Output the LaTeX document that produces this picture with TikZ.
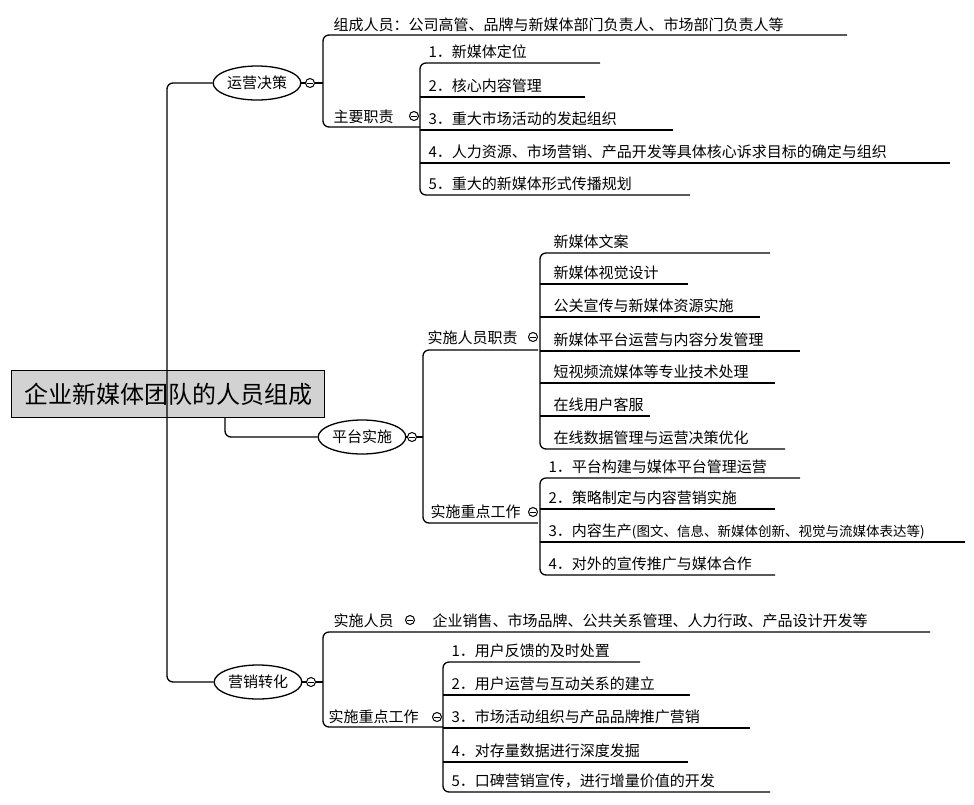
\documentclass[tikz,border=0pt]{standalone}
\usepackage{fontspec}
\setmainfont{Noto Sans CJK SC}
\usetikzlibrary{shapes.geometric}
\begin{document}
\begin{tikzpicture}[x=1pt,y=-1pt,line width=1.3pt,
  txt/.style={font=\fontsize{15}{15}\selectfont,anchor=base west,inner sep=0pt},
  oval/.style={draw,ellipse,minimum width=86,minimum height=34,inner sep=1pt,font=\fontsize{15}{15}\selectfont},
  rc/.style={rounded corners=6}]
\newcommand\icon[2]{\draw[line width=1pt] (#1,#2) circle (4.5); \draw[line width=1pt] (#1-2.6,#2)--(#1+2.6,#2);}
\useasboundingbox (0,0) rectangle (974,804);
% root
\node[draw,fill=gray!35,minimum width=313,minimum height=47,inner sep=0pt,font=\fontsize{24}{24}\selectfont] (root) at (168,394) {企业新媒体团队的人员组成};
\node[oval] (a) at (257,83) {运营决策};
\node[oval] (b) at (362,437) {平台实施};
\node[oval] (c) at (258,682) {营销转化};
\draw[rc] (a.west) -- (167,83) -- (167,682) -- (c.west);
\draw[rc] (225,417) -- (225,437) -- (b.west);
\icon{310}{83}\icon{412}{437}\icon{311}{682}
% a branch
\draw (a.east) -- (305.5,83);
\draw[rc] (847,35) -- (323,35) -- (323,127) -- (420,127);
\draw (314.5,83) -- (323,83);
\node[txt] (a1) at (333,30) {组成人员：公司高管、品牌与新媒体部门负责人、市场部门负责人等};
\node[txt] (a2) at (333,122) {主要职责};
\icon{414}{116}
\draw[rc] (600,63) -- (420,63) -- (420,195) -- (690,195);
\foreach \y/\e in {97/585,130/673,163/950}{\draw (420,\y) -- (\e,\y);}
\foreach \y/\t in {63/1．新媒体定位,97/2．核心内容管理,130/3．重大市场活动的发起组织,163/4．人力资源、市场营销、产品开发等具体核心诉求目标的确定与组织,195/5．重大的新媒体形式传播规划}
  {\node[txt] at (428,\y-6) {\t};}
% b branch
\draw (b.east) -- (407.5,437);
\draw (416.5,437) -- (423,437);
\draw[rc] (538,350) -- (423,350) -- (423,523) -- (538,523);
\node[txt] (b1) at (427,343) {实施人员职责};
\node[txt] (b2) at (430,517) {实施重点工作};
\icon{533}{337}\icon{533}{512}
\draw[rc] (770,253) -- (540,253) -- (540,449) -- (785,449);
\foreach \y/\e in {284/688,317/760,351/800,383/775,416/650}{\draw (540,\y) -- (\e,\y);}
\foreach \y/\t in {253/新媒体文案/内容策划编辑,284/新媒体视觉设计,317/公关宣传与新媒体资源实施,351/新媒体平台运营与内容分发管理,383/短视频流媒体等专业技术处理,416/在线用户客服,449/在线数据管理与运营决策优化}
  {\node[txt] at (553,\y-6) {\t};}
\draw[rc] (800,478) -- (540,478) -- (540,575) -- (775,575);
\foreach \y/\e in {509/775,542/965}{\draw (540,\y) -- (\e,\y);}
\foreach \y/\t in {478/1．平台构建与媒体平台管理运营,509/2．策略制定与内容营销实施,575/4．对外的宣传推广与媒体合作}
  {\node[txt] at (548,\y-6) {\t};}
\node[txt] at (548,536) {3．内容生产{\fontsize{13.5}{13.5}\selectfont(图文、信息、新媒体创新、视觉与流媒体表达等)}};
% c branch
\draw (c.east) -- (306.5,682);
\draw (315.5,682) -- (323,682);
\draw[rc] (930,632) -- (323,632) -- (323,727) -- (443,727);
\node[txt] (c1) at (333,626) {实施人员};
\icon{410}{620}
\node[txt] at (432,626) {企业销售、市场品牌、公共关系管理、人力行政、产品设计开发等};
\node[txt] (c2) at (328,722) {实施重点工作};
\icon{437}{717}
\draw[rc] (640,662) -- (443,662) -- (443,792) -- (770,792);
\foreach \y/\e in {695/690,762/688}{\draw (443,\y) -- (\e,\y);}
\draw (443,728) -- (750,728);
\foreach \y/\t in {662/1．用户反馈的及时处置,695/2．用户运营与互动关系的建立,728/3．市场活动组织与产品品牌推广营销,762/4．对存量数据进行深度发掘,792/5．口碑营销宣传，进行增量价值的开发}
  {\node[txt] at (451,\y-6) {\t};}
\end{tikzpicture}
\end{document}
